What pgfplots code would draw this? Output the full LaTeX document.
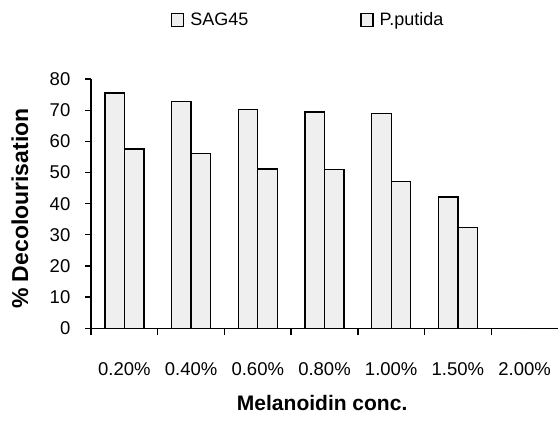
\documentclass[border=0pt]{standalone}
\usepackage{pgfplots}
\pgfplotsset{compat=1.18}
\usepackage{fontspec}
\setmainfont{Liberation Sans}
\definecolor{barfill}{HTML}{EFEFEF}
\begin{document}
\begin{tikzpicture}
\useasboundingbox (0,0) rectangle (558bp,427bp);
\begin{axis}[
  at={(91bp,98.7bp)}, anchor=south west,
  scale only axis, width=467bp, height=249.3bp,
  xmin=-0.5, xmax=6.5, ymin=0, ymax=80,
  axis x line=bottom, axis y line=left,
  axis line style={line width=1.4bp, -},
  x axis line style={-}, y axis line style={-},
  ybar=0pt, bar width=19.5bp,
  xtick={0,...,6},
  xticklabels={0.20\%,0.40\%,0.60\%,0.80\%,1.00\%,1.50\%,2.00\%},
  major x tick style={draw=none},
  minor xtick={-0.5,0.5,1.5,2.5,3.5,4.5,5.5},
  minor x tick style={line width=1.3bp, black},
  minor tick length=7bp,
  ytick={0,10,...,80},
  major y tick style={line width=1.3bp, black},
  major tick length=6bp,
  tick align=outside,
  xticklabel style={anchor=center, inner sep=0pt, yshift=-34.5bp, font=\fontsize{18.5bp}{20bp}\selectfont},
  yticklabel style={anchor=east, inner sep=0pt, xshift=-14.5bp, font=\fontsize{18.5bp}{20bp}\selectfont},
  /pgf/number format/assume math mode=true,
  xlabel={Melanoidin conc.},
  ylabel={\% Decolourisation},
  xlabel style={at={(axis description cs:0.495,-0.30)}, anchor=center, inner sep=0pt, font=\bfseries\fontsize{21bp}{23bp}\selectfont},
  ylabel style={at={(axis description cs:-0.152,0.48)}, anchor=center, inner sep=0pt, font=\bfseries\fontsize{23bp}{25bp}\selectfont},
  legend columns=2,
  legend style={draw=none, fill=none, at={(axis description cs:0.171,1.237)}, anchor=west, inner sep=0pt,
    font=\fontsize{18bp}{20bp}\selectfont,
    nodes={inner sep=0pt, anchor=west},
    /tikz/every odd column/.append style={column sep=6bp},
    /tikz/every even column/.append style={column sep=112bp}},
  legend image code/.code={\draw[fill=barfill, draw=black, line width=1.3bp] (0bp,-6.5bp) rectangle (12bp,6.5bp);},
  clip=false,
]
\addplot[fill=barfill, draw=black, line width=1.3bp] coordinates {(0,75.5) (1,72.8) (2,70.3) (3,69.4) (4,68.9) (5,42.1) (6,0)};
\addplot[fill=barfill, draw=black, line width=1.3bp] coordinates {(0,57.5) (1,56.1) (2,51.1) (3,51.0) (4,47.2) (5,32.4) (6,0)};
\legend{SAG45,P.putida}
\end{axis}
\end{tikzpicture}
\end{document}
